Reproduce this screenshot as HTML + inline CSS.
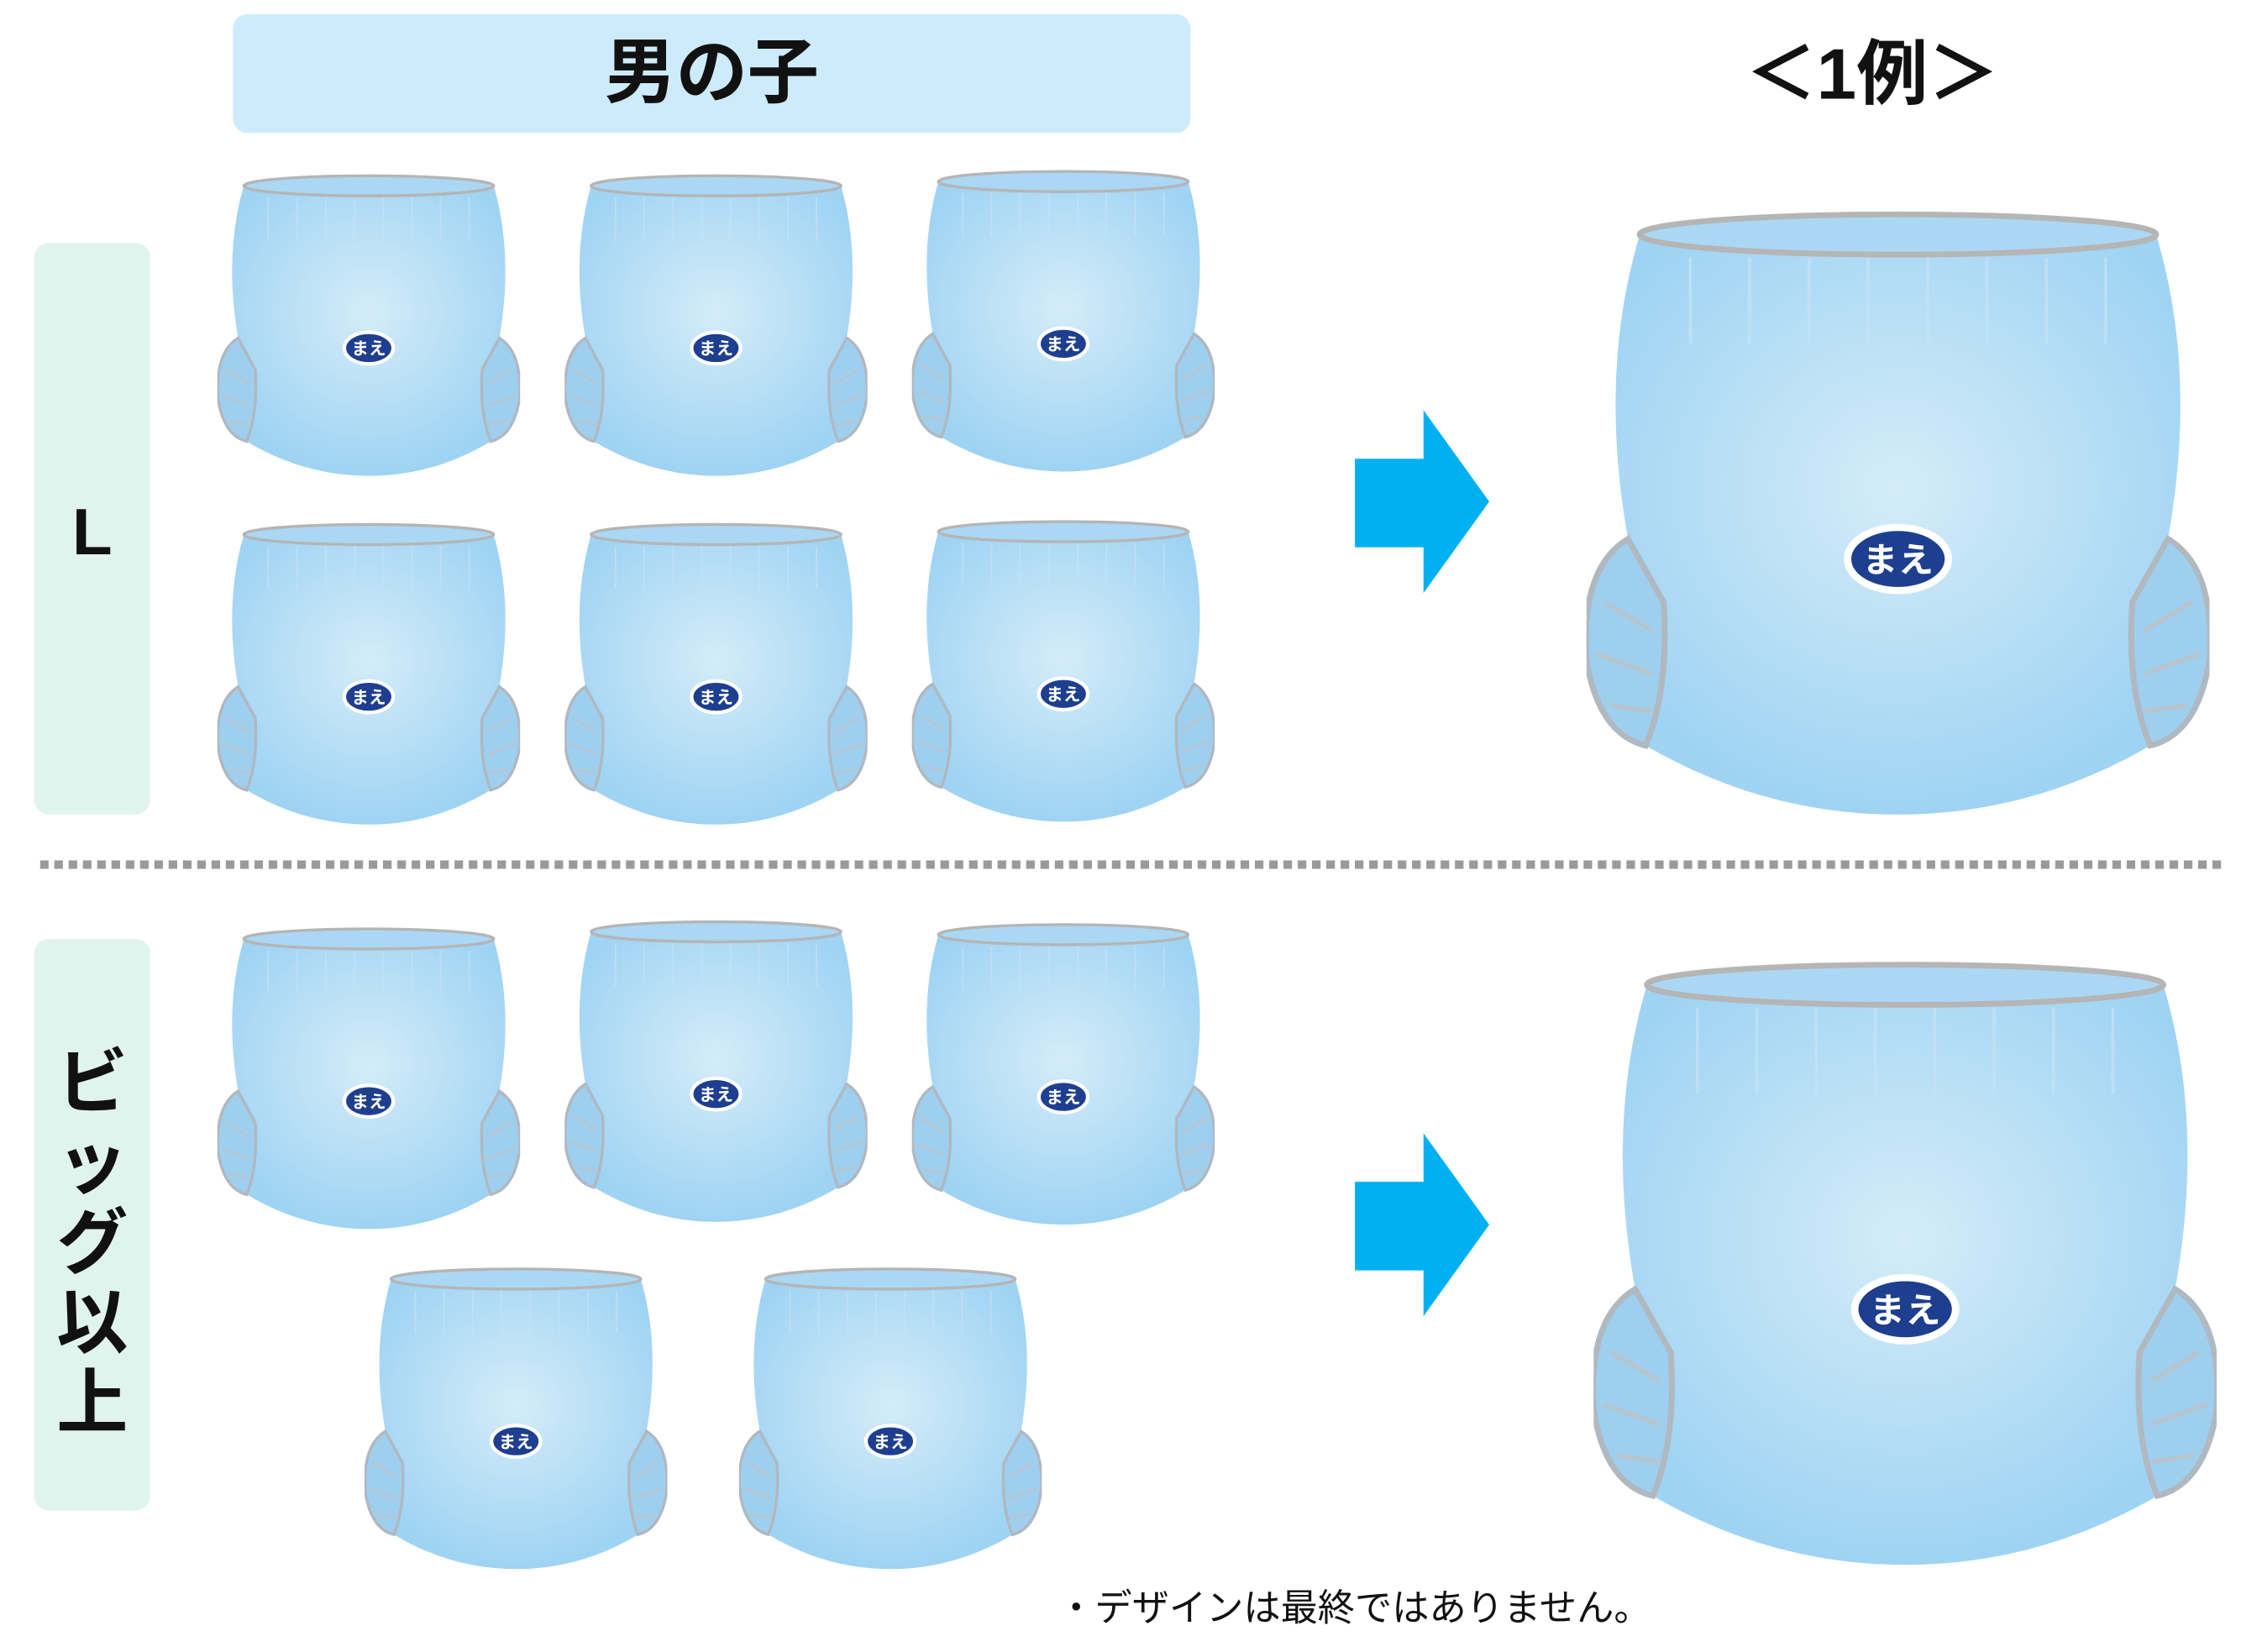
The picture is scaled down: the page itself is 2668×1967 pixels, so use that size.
<!DOCTYPE html>
<html><head><meta charset="utf-8">
<style>
html,body{margin:0;padding:0;background:#fff;}
#wrap{width:2668px;height:1967px;overflow:hidden;position:relative;}
#s{width:1568px;height:1156px;position:absolute;left:0;top:0;transform:scale(1.70153);transform-origin:0 0;font-family:"Liberation Sans","Noto Sans CJK JP",sans-serif;}
.a{position:absolute;}
.d{position:absolute;}
</style></head><body>
<div id="wrap"><div id="s">
<svg width="0" height="0" style="position:absolute">
<defs>
<radialGradient id="g" cx="50%" cy="45%" r="55%"><stop offset="0" stop-color="#d4ecf8"/><stop offset="1" stop-color="#9fd3f3"/></radialGradient>
<pattern id="dots" width="10" height="6" patternUnits="userSpaceOnUse"><rect width="6" height="6" fill="#9a9a9a"/></pattern>
<symbol id="dp" viewBox="0 0 210 215">
<path d="M18,12 Q105,2 192,12 Q206,60 196,118 Q212,128 210,160 Q206,186 190,190 Q150,214 105,214 Q60,214 20,190 Q4,186 0,160 Q-2,128 14,118 Q4,60 18,12 Z" fill="url(#g)"/>
<path d="M14,118 Q-2,128 0,160 Q4,186 20,190 Q28,170 26,140 Z M196,118 Q212,128 210,160 Q206,186 190,190 Q182,170 184,140 Z" fill="#9fcfee" stroke="#b0b8c0" stroke-width="2"/>
<path d="M6,140 L22,150 M3,158 L22,165 M8,176 L22,178 M204,140 L188,150 M207,158 L188,165 M202,176 L188,178" stroke="#b8c4cc" stroke-width="1.5" fill="none"/>
<ellipse cx="105" cy="12" rx="87" ry="7" fill="#aad8f4" stroke="#b5b5b5" stroke-width="2"/>
<g stroke="#c4e4f7" stroke-width="1" opacity="0.7"><path d="M35,20 V50 M55,20 V50 M75,20 V50 M95,20 V50 M115,20 V50 M135,20 V50 M155,20 V50 M175,20 V50"/></g>
<ellipse cx="105" cy="125" rx="17" ry="11" fill="#1e3f8f" stroke="#fff" stroke-width="2.5"/>
<text x="105" y="129.5" font-size="12" fill="#fff" text-anchor="middle" font-weight="bold" font-family="Noto Sans CJK JP,sans-serif">まえ</text>
</symbol>
</defs></svg>

<div class="a" style="left:163px;top:10px;width:670px;height:83px;background:#cdebfb;border-radius:10px;text-align:center;line-height:83px;font-size:50px;font-weight:bold;color:#111;">男の子</div>
<div class="a" style="left:1215px;top:20px;width:190px;text-align:center;font-size:50px;line-height:64px;font-weight:bold;color:#111;">＜1例＞</div>

<div class="a" style="left:24px;top:170px;width:81px;height:400px;background:#e0f4ee;border-radius:10px;"></div>
<div class="a" style="left:24px;top:345px;width:81px;text-align:center;font-size:46px;font-weight:bold;color:#111;">L</div>
<div class="a" style="left:24px;top:657px;width:81px;height:400px;background:#e0f4ee;border-radius:10px;"></div>
<div class="a" style="left:24px;top:730px;width:81px;text-align:center;font-size:50px;line-height:56px;font-weight:bold;color:#111;">ビ<br>ッ<br>グ<br>以<br>上</div>

<svg class="a" style="left:28px;top:602px" width="1530" height="6"><rect width="1530" height="6" fill="url(#dots)"/></svg>

<svg class="a" style="left:948px;top:287px" width="96" height="130" viewBox="0 0 96 130"><path d="M0,34 H48 V0 L94,64 L48,128 V96 H0 Z" fill="#00b0f0"/></svg>
<svg class="a" style="left:948px;top:793px" width="96" height="130" viewBox="0 0 96 130"><path d="M0,34 H48 V0 L94,64 L48,128 V96 H0 Z" fill="#00b0f0"/></svg>

<svg class="d" style="left:152px;top:118px" width="212" height="216"><use href="#dp"/></svg>
<svg class="d" style="left:395px;top:118px" width="212" height="216"><use href="#dp"/></svg>
<svg class="d" style="left:638px;top:115px" width="212" height="216"><use href="#dp"/></svg>
<svg class="d" style="left:152px;top:362px" width="212" height="216"><use href="#dp"/></svg>
<svg class="d" style="left:395px;top:362px" width="212" height="216"><use href="#dp"/></svg>
<svg class="d" style="left:638px;top:360px" width="212" height="216"><use href="#dp"/></svg>

<svg class="d" style="left:152px;top:645px" width="212" height="216"><use href="#dp"/></svg>
<svg class="d" style="left:395px;top:640px" width="212" height="216"><use href="#dp"/></svg>
<svg class="d" style="left:638px;top:642px" width="212" height="216"><use href="#dp"/></svg>
<svg class="d" style="left:255px;top:883px" width="212" height="216"><use href="#dp"/></svg>
<svg class="d" style="left:517px;top:883px" width="212" height="216"><use href="#dp"/></svg>

<svg class="d" style="left:1110px;top:140px" width="436" height="432" viewBox="0 0 210 215" preserveAspectRatio="none"><use href="#dp"/></svg>
<svg class="d" style="left:1115px;top:665px" width="436" height="432" viewBox="0 0 210 215" preserveAspectRatio="none"><use href="#dp"/></svg>

<div class="a" style="left:740px;top:1105px;font-size:26px;color:#111;white-space:nowrap;">・デザインは最終ではありません。</div>
</div></div>
</body></html>
